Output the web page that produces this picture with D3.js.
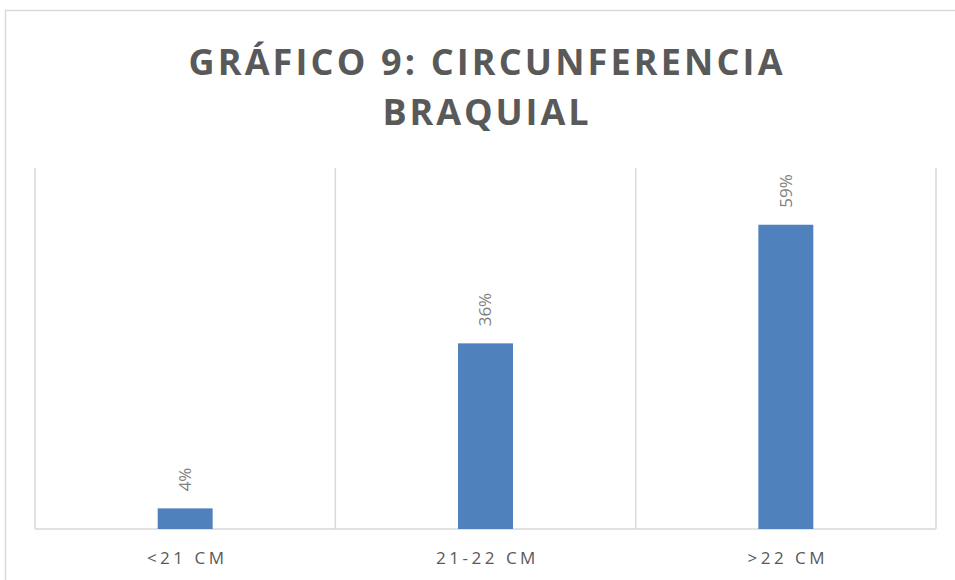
<!DOCTYPE html>
<html>
<head>
<meta charset="utf-8">
<script src="https://d3js.org/d3.v7.min.js"></script>
<style>
  body { margin: 0; background: #fff; }
  svg { display: block; }
</style>
</head>
<body>
<svg></svg>
<script>
// chart data
const categories = ['<21 CM', '21-22 CM', '>22 CM'];
const values = [0.04, 0.36, 0.59];
const labels = ['4%', '36%', '59%'];
const titleLines = ['GRÁFICO 9: CIRCUNFERENCIA', 'BRAQUIAL'];

let width = 955, height = 580;
let margin = { top: 168, bottom: 51, left: 35, right: 19 };

let svg = d3.select('svg')
    .attr('width', width)
    .attr('height', height)
    .style('font-family', '"Open Sans", sans-serif');

// chart frame
svg.append('rect')
    .attr('x', 5.5).attr('y', 10.5)
    .attr('width', width + 10).attr('height', height + 10)
    .attr('fill', 'none')
    .attr('stroke', '#d9d9d9')
    .attr('stroke-width', 1.5);

// title, letter spaced
let titleWidths = [594, 206];
svg.selectAll('text.title')
    .data(titleLines)
    .enter()
    .append('text')
    .attr('class', 'title')
    .attr('x', width / 2 + 8)
    .attr('y', (d, i) => 75 + i * 50)
    .attr('text-anchor', 'middle')
    .attr('textLength', (d, i) => titleWidths[i])
    .attr('lengthAdjust', 'spacing')
    .style('font-size', '36px')
    .style('font-weight', 'bold')
    .style('fill', '#595959')
    .text(d => d);

let xScale = d3.scaleBand()
    .domain(categories)
    .range([margin.left, width - margin.right])
    .padding(0);

let yScale = d3.scaleLinear()
    .domain([0, 0.7])
    .range([height - margin.bottom, margin.top]);

// vertical gridlines between categories
let bounds = categories.map(c => xScale(c)).concat([xScale.range()[1]]);
svg.selectAll('line.grid')
    .data(bounds)
    .enter()
    .append('line')
    .attr('class', 'grid')
    .attr('x1', d => d).attr('x2', d => d)
    .attr('y1', yScale(0.7)).attr('y2', yScale(0))
    .attr('stroke', '#d9d9d9')
    .attr('stroke-width', 1.5);

// baseline
svg.append('line')
    .attr('x1', xScale.range()[0]).attr('x2', xScale.range()[1])
    .attr('y1', yScale(0)).attr('y2', yScale(0))
    .attr('stroke', '#d9d9d9')
    .attr('stroke-width', 1.5);

let barW = xScale.bandwidth() * 0.183;

svg.selectAll('rect.bar')
    .data(values)
    .enter()
    .append('rect')
    .attr('class', 'bar')
    .attr('x', (d, i) => xScale(categories[i]) + (xScale.bandwidth() - barW) / 2)
    .attr('y', d => yScale(d))
    .attr('width', barW)
    .attr('height', d => yScale(0) - yScale(d))
    .attr('fill', '#4f81bd');

// rotated value labels
svg.selectAll('text.val')
    .data(values)
    .enter()
    .append('text')
    .attr('class', 'val')
    .attr('transform', (d, i) => {
        let cx = xScale(categories[i]) + xScale.bandwidth() / 2;
        return `translate(${cx}, ${yScale(d) - 17}) rotate(-90)`;
    })
    .attr('dy', '0.35em')
    .style('font-size', '17px')
    .style('fill', '#7f7f7f')
    .text((d, i) => labels[i]);

// category labels
svg.selectAll('text.cat')
    .data(categories)
    .enter()
    .append('text')
    .attr('class', 'cat')
    .attr('x', d => xScale(d) + xScale.bandwidth() / 2 + 2)
    .attr('y', 564)
    .attr('text-anchor', 'middle')
    .style('font-size', '17px')
    .style('letter-spacing', '3.5px')
    .style('fill', '#595959')
    .text(d => d);
</script>
</body>
</html>
